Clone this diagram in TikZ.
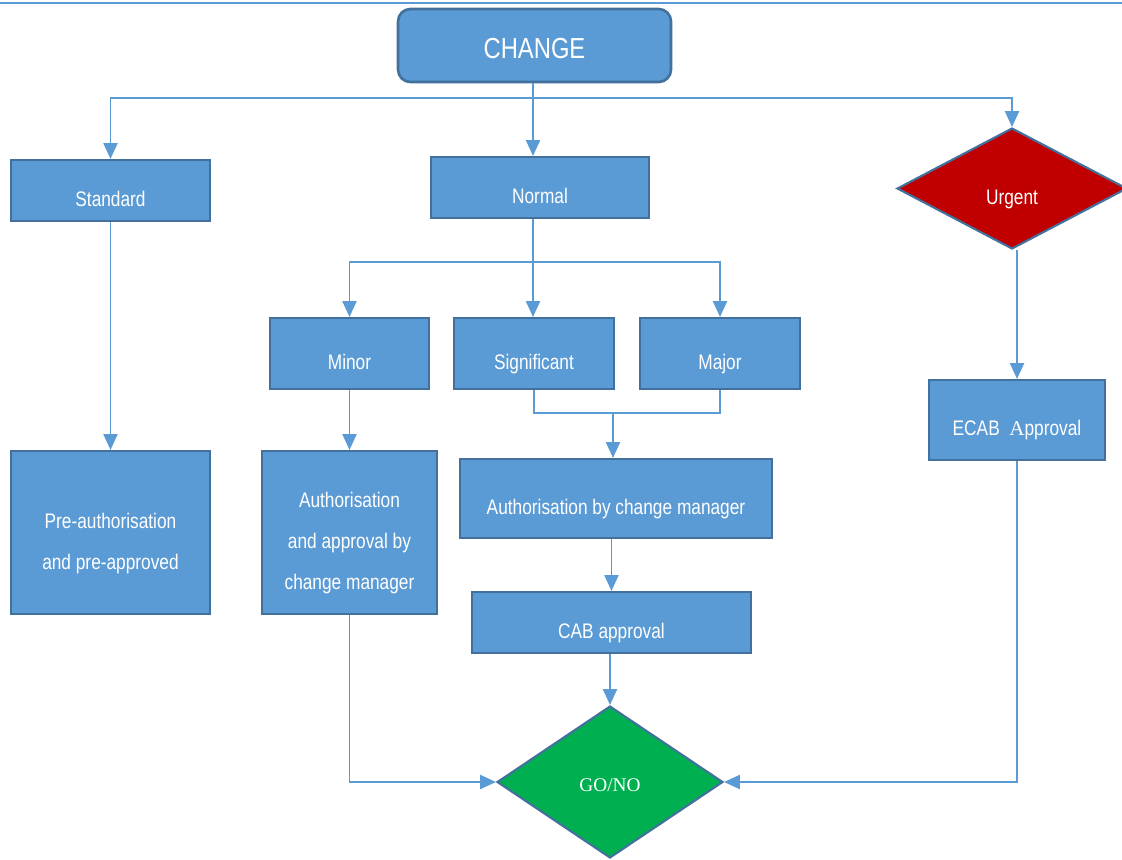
\documentclass[tikz,border=0pt]{standalone}
\usepackage{fontspec}
\setmainfont{Liberation Sans}[FakeStretch=0.82]
\newfontfamily\serif{Liberation Serif}
\usetikzlibrary{shapes,arrows.meta,positioning}
\definecolor{boxblue}{RGB}{91,155,213}
\definecolor{edgeblue}{RGB}{65,113,156}
\definecolor{urgred}{RGB}{192,0,0}
\definecolor{gogreen}{RGB}{0,176,80}
\def\Mgr{change manager}
\def\Lo{\rule{0pt}{21pt}}% pushes a block of lines down

\begin{document}
\begin{tikzpicture}[% one unit is one pixel of the page
			x=0.02cm,y=-0.02cm,
			every node/.style={
				align=center,		% so that "\\" breaks the line
				text=white,
				inner sep=0pt,
				font=\fontsize{12pt}{23.3pt}\selectfont
			},
			low/.style={execute at begin node={\rule[-3pt]{0pt}{24pt}}},	% text sits a little low
			box/.style={rectangle,draw=edgeblue,line width=1.2pt,fill=boxblue},
			choice/.style={diamond,draw=edgeblue,line width=1.2pt},
			line/.style={draw=boxblue,line width=1pt},
			arr/.style={line,-{Triangle[width=8pt,length=9pt]}}
		]
		\clip (0,0) rectangle (1122,859);
		\draw[boxblue,line width=1.2pt] (0,3) -- (1122,3);
		% first level
		\node[box,rounded corners=7pt,line width=1.5pt,minimum width=5.46cm,minimum height=1.46cm,font=\fontsize{16.5pt}{18pt}\selectfont,
			execute at begin node={\rule[-2pt]{0pt}{19pt}}](Change) at (534.5,45.5){CHANGE};
		\node[box,low,minimum width=3.98cm,minimum height=1.22cm](Std) at (110.5,190.5){Standard};
		\node[box,low,minimum width=4.36cm,minimum height=1.22cm](Norm) at (540,187.5){Normal};
		\node[choice,low,fill=urgred,minimum width=4.6cm,minimum height=2.42cm](Urg) at (1012,188.5){Urgent};
		% normal change
		\node[box,low,minimum width=3.18cm,minimum height=1.42cm](Minor) at (349.5,353.5){Minor};
		\node[box,low,minimum width=3.2cm,minimum height=1.42cm](Sig) at (534,353.5){Significant};
		\node[box,low,minimum width=3.2cm,minimum height=1.42cm](Major) at (720,353.5){Major};
		\node[box,low,minimum width=6.24cm,minimum height=1.58cm](AuthCM) at (616,498.5){Authorisation by \Mgr};
		\node[box,low,minimum width=5.58cm,minimum height=1.22cm](CAB) at (611.5,622.5){CAB approval};
		\node[box,minimum width=3.5cm,minimum height=3.26cm](AuthApp) at (349.5,532.5){\Lo Authorisation\\ and approval by\\ \Mgr};
		% standard and urgent
		\node[box,minimum width=3.98cm,minimum height=3.26cm](PreAuth) at (110.5,532.5){\Lo Pre-authorisation\\ and pre-approved};
		\node[box,low,minimum width=3.52cm,minimum height=1.6cm](ECAB) at (1017,420){ECAB\ \ {\serif A}pproval};
		\node[choice,fill=gogreen,minimum width=4.52cm,minimum height=3.04cm,font=\serif\fontsize{11pt}{13pt}\selectfont,
			execute at begin node={\rule{0pt}{11pt}}](GoNo) at (610,782){GO/NO};
		% connectors
		\coordinate (Split) at (533,98);
		\coordinate (SplitN) at (533,262);
		\coordinate (Join) at (613,413);
		\draw[line] (Change.south -| Split) -- (Split);
		\draw[arr] (Split) -| (Std.north);
		\draw[arr] (Split) -| (Urg.north);
		\draw[arr] (Split) -- (Split |- Norm.north);
		\draw[line] (SplitN |- Norm.south) -- (SplitN);
		\draw[arr] (SplitN) -| (Minor.north);
		\draw[arr] (SplitN) -| (Major.north);
		\draw[arr] (SplitN) -- (SplitN |- Sig.north);
		\draw[line] (Sig.south) |- (Join);
		\draw[line] (Major.south) |- (Join);
		\draw[arr] (Join) -- (Join |- AuthCM.north);
		\draw[arr] (CAB.north |- AuthCM.south) -- (CAB.north);
		\draw[arr] (GoNo.north |- CAB.south) -- (GoNo.north);
		\draw[arr] (Minor) -- (AuthApp);
		\draw[arr] (Std) -- (PreAuth);
		\draw[arr] (ECAB.north |- Urg.south) -- (ECAB.north);
		\draw[arr] (AuthApp.south) |- (GoNo.west);
		\draw[arr] (ECAB.south) |- (GoNo.east);
	\end{tikzpicture}
\end{document}
